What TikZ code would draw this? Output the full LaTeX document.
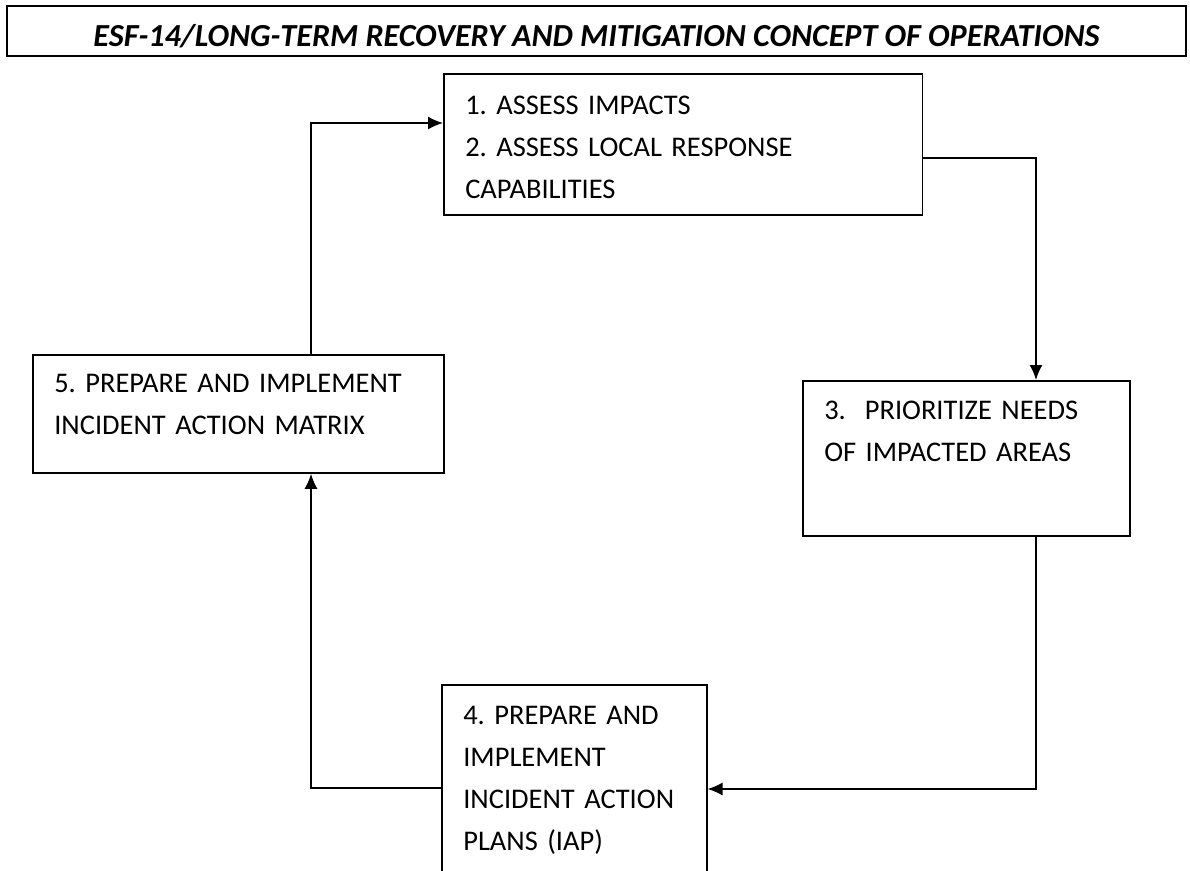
\documentclass[tikz,border=0pt]{standalone}
\usepackage{fontspec}
\setmainfont{Carlito}
\usetikzlibrary{arrows.meta}
\frenchspacing

\begin{document}
\begin{tikzpicture}[x=0.02cm,y=-0.02cm,->,>={Latex[length=0.3cm,width=0.26cm]},
                    line width=0.9pt,
                    stage/.style={draw,anchor=north west,align=left,inner xsep=0.43cm,
                                  font=\fontsize{16.2}{23.9}\selectfont},
                    heading/.style={draw,minimum width=23.58cm,minimum height=1cm,
                                  text height=0.62cm,text depth=0pt,
                                  font=\fontsize{18.3}{20}\selectfont\bfseries\itshape}]

  \useasboundingbox (0,0) rectangle (1190,871);

  \node[heading] (head) at (596.5,31)
        {ESF-14/LONG-TERM RECOVERY AND MITIGATION CONCEPT OF OPERATIONS};

  \node[stage,text width=8.72cm,inner ysep=0.44cm,text depth=1.58cm] (assess) at (443,73)
        {1. ASSESS IMPACTS\\2. ASSESS LOCAL RESPONSE\\CAPABILITIES};
  \node[stage,text width=5.68cm,inner ysep=0.4cm,text depth=1.94cm] (prio) at (802,380)
        {3.\ \ PRIORITIZE NEEDS\\OF IMPACTED AREAS};
  \node[stage,text width=4.44cm,inner ysep=0.42cm,text depth=3.6cm] (plans) at (441,684)
        {4. PREPARE AND\\IMPLEMENT\\INCIDENT ACTION\\PLANS (IAP)};
  \node[stage,text width=7.36cm,inner ysep=0.38cm,text depth=1.24cm] (matrix) at (32,354)
        {5. PREPARE AND IMPLEMENT\\INCIDENT ACTION MATRIX};

  % corners of the loop
  \coordinate (ltop) at (311,123);
  \coordinate (rtop) at (1036,158);
  \coordinate (rbot) at (1036,789);
  \coordinate (lbot) at (311,788);

  \draw (assess.east |- rtop) -- (rtop) -- (rtop |- prio.north);
  \draw (prio.south -| rbot) -- (rbot) -- (rbot -| plans.east);
  \draw (plans.west |- lbot) -- (lbot) -- (lbot |- matrix.south);
  \draw (matrix.north -| ltop) -- (ltop) -- (ltop -| assess.west);
\end{tikzpicture}
\end{document}
